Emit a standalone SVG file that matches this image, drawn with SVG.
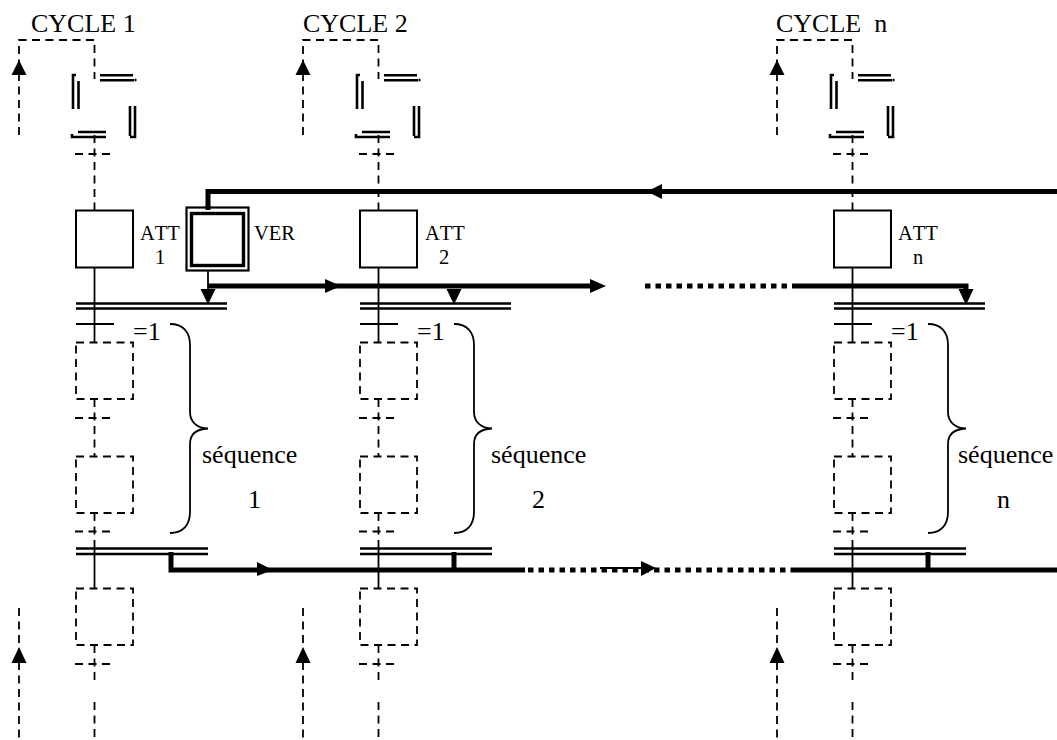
<svg xmlns="http://www.w3.org/2000/svg" xmlns:xlink="http://www.w3.org/1999/xlink" width="1057" height="740" viewBox="0 0 1057 740">
<style>
text{font-family:"Liberation Serif","Times New Roman",serif;fill:#000;white-space:pre;font-kerning:none}
.t1{font-size:26px}.t2{font-size:20.500px}.t3{font-size:26px}
path,line,rect{fill:none;stroke:#000;stroke-width:1.8}
.d{stroke-dasharray:8 5.500}
.dl{stroke-width:2.600}
.box{stroke-width:2;fill:#fff}
.bus{stroke-width:5}
.dot{stroke-width:5;stroke-dasharray:5.500 5}
.h{fill:#000;stroke:none}
.outer{stroke-width:2.200}
.inner{stroke-width:3.400}
</style>
<defs>
<g id="column">
<path class="d" d="M19 135V40H94.500V79"/>
<path class="h" d="M19 60L26.500 75H11.500Z"/>
<path class="dl" d="M100 75.300H133M100 80.300H134M134.500 80H136.500M73 109V75H76M78.500 109V81M130 106V136M135 106V137H130M72 134V137H106M78 132H106"/>
<path class="d" d="M75 154H111M94.500 135V210"/>
<rect class="box" x="76" y="210.500" width="57" height="57"/>
<path d="M94.500 267V342"/>
<path d="M76 324H114"/>
<path class="d" d="M76 342.500H133V399H76ZM94.500 399V456M75 418H111M76 456.500H133V513H76ZM94.500 513V540M75 531.500H111"/>
<path class="dl" d="M76 303.500H227M76 308.500H227"/>
<path class="dl" d="M76 548.500H208M76 554H208"/>
<path d="M94.500 540V588"/>
<path class="d" d="M76 588.500H133V645H76ZM94.500 645V680M75 664H111M94.500 702V740M19 608V740"/>
<path class="h" d="M19 647L26.500 663H11.500Z"/>
<path d="M170 324C183 324 190 332 190 345V412C190 422 197 428 208 428.500C197 429 190 434 190 444V512C190 525 183 533 170 533"/>
</g>
</defs>
<g id="cycle1">
<use href="#column" xlink:href="#column"/>
<text class="t1" x="31" y="32">CYCLE 1</text>
<text class="t2" x="140" y="240">ATT</text>
<text class="t2" x="155" y="264">1</text>
<text class="t3" x="133" y="340">=1</text>
<text class="t3" x="202" y="463">séquence</text>
<text class="t3" x="248" y="508">1</text>
</g>
<g id="cycle2">
<use href="#column" xlink:href="#column" transform="translate(284,0)"/>
<text class="t1" x="303" y="32">CYCLE 2</text>
<text class="t2" x="425" y="240">ATT</text>
<text class="t2" x="439" y="264">2</text>
<text class="t3" x="417" y="340">=1</text>
<text class="t3" x="491" y="463">séquence</text>
<text class="t3" x="532" y="508">2</text>
</g>
<g id="cyclen">
<use href="#column" xlink:href="#column" transform="translate(758,0)"/>
<text class="t1" x="776" y="32">CYCLE  n</text>
<text class="t2" x="898" y="240">ATT</text>
<text class="t2" x="913" y="264">n</text>
<text class="t3" x="891" y="340">=1</text>
<text class="t3" x="958" y="463">séquence</text>
<text class="t3" x="997" y="508">n</text>
</g>
<g id="ver">
<rect class="outer" x="186.500" y="207.500" width="62" height="63"/>
<rect class="inner" x="191.500" y="213.500" width="52" height="52"/>
<text class="t2" x="254" y="240">VER</text>
</g>
<g id="connectors">
<path class="bus" d="M208 210V191.500H1057"/>
<path class="h" d="M647 191.500L662 184V199Z"/>
<path d="M208 271V290"/>
<path class="h" d="M208 304.500L200.500 289H215.500Z"/>
<path class="bus" d="M208 286H590"/>
<path class="h" d="M341 286L325 279V293Z"/>
<path class="h" d="M606 286L590 279V293Z"/>
<path class="h" d="M454 304.500L446.500 289H461.500Z"/>
<path class="dot" d="M645 286H795"/>
<path class="bus" d="M795 286H966V291"/>
<path class="h" d="M966 305L958.500 289H973.500Z"/>
<path class="bus" d="M171 552V570H525"/>
<path class="h" d="M273 570L257 562V576Z"/>
<path class="bus" d="M454 552V570M928 552V570M795 570H1057"/>
<path class="dot" d="M528 570H795"/>
<path d="M600 568H642"/>
<path class="h" d="M656 568L641 561V576Z"/>
</g>
</svg>
